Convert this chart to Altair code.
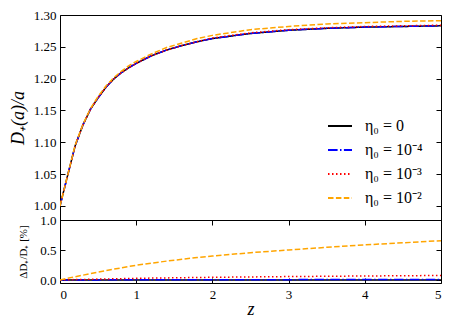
import altair as alt
import pandas as pd

z = [0, 0.1, 0.2, 0.3, 0.4, 0.5, 0.6, 0.7, 0.8, 0.9, 1.0, 1.2, 1.4, 1.6, 1.8,
     2.0, 2.5, 3.0, 3.5, 4.0, 4.5, 5.0]

d_eta0 = [1.000, 1.048, 1.095, 1.127, 1.152, 1.170, 1.186, 1.199, 1.209, 1.217,
          1.224, 1.236, 1.245, 1.252, 1.258, 1.263, 1.271, 1.276, 1.279, 1.281,
          1.282, 1.283]
d_eta4 = [1.000, 1.048, 1.095, 1.127, 1.152, 1.170, 1.186, 1.199, 1.209, 1.217,
          1.224, 1.236, 1.245, 1.252, 1.258, 1.263, 1.271, 1.276, 1.279, 1.281,
          1.282, 1.283]
d_eta3 = [1.000, 1.048, 1.095, 1.127, 1.152, 1.170, 1.186, 1.199, 1.209, 1.217,
          1.224, 1.236, 1.245, 1.252, 1.258, 1.264, 1.272, 1.277, 1.280, 1.282,
          1.283, 1.284]
d_eta2 = [1.000, 1.048, 1.096, 1.128, 1.153, 1.172, 1.188, 1.201, 1.211, 1.220,
          1.227, 1.239, 1.249, 1.256, 1.263, 1.268, 1.277, 1.282, 1.286, 1.288,
          1.290, 1.291]

pct_eta0 = [0.0, 0.0, 0.0, 0.0, 0.0, 0.0, 0.0, 0.0, 0.0, 0.0, 0.0, 0.0, 0.0,
            0.0, 0.0, 0.0, 0.0, 0.0, 0.0, 0.0, 0.0, 0.0]
pct_eta4 = [0.0, 0.001, 0.001, 0.002, 0.002, 0.002, 0.003, 0.003, 0.003, 0.003,
            0.004, 0.004, 0.004, 0.005, 0.005, 0.005, 0.006, 0.006, 0.007, 0.007,
            0.008, 0.008]
pct_eta3 = [0.0, 0.004, 0.007, 0.009, 0.012, 0.015, 0.017, 0.020, 0.022, 0.025,
            0.028, 0.032, 0.035, 0.038, 0.042, 0.045, 0.051, 0.057, 0.062, 0.067,
            0.071, 0.075]
pct_eta2 = [0.0, 0.03, 0.055, 0.08, 0.105, 0.13, 0.155, 0.18, 0.20, 0.225,
            0.245, 0.28, 0.315, 0.345, 0.375, 0.40, 0.455, 0.50, 0.545, 0.585,
            0.62, 0.655]

labels = ["η₀ = 0", "η₀ = 10⁻⁴", "η₀ = 10⁻³", "η₀ = 10⁻²"]
colors = ["#000000", "#0000ff", "#ff0000", "#ffa500"]
dashes = [[1, 0], [9.6, 2.4, 1.5, 2.4], [1.5, 2.5], [5.5, 2.4]]

rows = []
for i, (lab, dv, pv) in enumerate(zip(labels, [d_eta0, d_eta4, d_eta3, d_eta2],
                                       [pct_eta0, pct_eta4, pct_eta3, pct_eta2])):
    for zz, d, p in zip(z, dv, pv):
        rows.append({"z": zz, "D": d, "pct": p, "series": lab, "k": i})
df = pd.DataFrame(rows)

SERIF = "Liberation Serif"
xscale = alt.Scale(domain=[0, 5], nice=False)
ytop = alt.Scale(domain=[0.978, 1.30], nice=False, zero=False)
ybot = alt.Scale(domain=[-0.05, 1.0], nice=False, zero=False)
cscale = alt.Scale(domain=labels, range=colors)
dscale = alt.Scale(domain=labels, range=dashes)

leg = alt.Legend(title=None, orient="none", legendX=267, legendY=98,
                 symbolType="stroke", symbolSize=576, symbolStrokeWidth=2,
                 labelFont=SERIF, labelFontSize=16, labelColor="black",
                 labelOffset=12, rowPadding=3, padding=0)

base = alt.Chart(df)

top_line = base.mark_line(strokeWidth=1.5, clip=True).encode(
    x=alt.X("z:Q", scale=xscale, axis=None),
    y=alt.Y("D:Q", scale=ytop, axis=alt.Axis(
        orient="left", values=[1.0, 1.05, 1.1, 1.15, 1.2, 1.25, 1.3], format=".2f",
        offset=-5, tickSize=5, domain=False, grid=False, labelPadding=4,
        title="D₊(a)/a", titleFontStyle="italic", titleFontSize=18,
        titlePadding=6)),
    color=alt.Color("series:N", scale=cscale, legend=leg),
    strokeDash=alt.StrokeDash("series:N", scale=dscale, legend=leg),
    order=alt.Order("z:Q"),
)
top_right = base.mark_line(opacity=0).encode(
    x=alt.X("z:Q", scale=xscale, axis=None),
    y=alt.Y("D:Q", scale=ytop, axis=alt.Axis(
        orient="right", values=[1.0, 1.05, 1.1, 1.15, 1.2, 1.25, 1.3],
        offset=-5, tickSize=5, domain=False, grid=False, labels=False, title=None)),
)
top = alt.layer(top_line, top_right).resolve_axis(y="independent").properties(
    width=381, height=205)

bot_line = base.mark_line(strokeWidth=1.5, clip=True).encode(
    x=alt.X("z:Q", scale=xscale, axis=alt.Axis(
        orient="bottom", values=[0, 1, 2, 3, 4, 5], format="d", offset=-5,
        tickSize=5, domain=False, grid=False, labelPadding=5, title="z",
        titleFontStyle="italic", titleFontSize=18, titlePadding=-1)),
    y=alt.Y("pct:Q", scale=ybot, axis=alt.Axis(
        orient="left", values=[0.0, 0.5, 1.0], format=".1f", offset=-5,
        tickSize=5, domain=False, grid=False, labelPadding=4,
        title="ΔD₊/D₊ [%]", titleFontSize=11, titlePadding=11)),
    color=alt.Color("series:N", scale=cscale, legend=None),
    strokeDash=alt.StrokeDash("series:N", scale=dscale, legend=None),
    order=alt.Order("z:Q"),
)
bot_other = base.mark_line(opacity=0).encode(
    x=alt.X("z:Q", scale=xscale, axis=alt.Axis(
        orient="top", values=[0, 1, 2, 3, 4, 5], offset=-5, tickSize=5,
        domain=False, grid=False, labels=False, title=None)),
    y=alt.Y("pct:Q", scale=ybot, axis=alt.Axis(
        orient="right", values=[0.0, 0.5, 1.0], offset=-5, tickSize=5,
        domain=False, grid=False, labels=False, title=None)),
)
bot = alt.layer(bot_line, bot_other).resolve_axis(x="independent", y="independent").properties(
    width=381, height=63)

chart = alt.vconcat(top, bot, spacing=0, bounds="flush").resolve_legend(
    color="independent", strokeDash="independent"
).properties(
    padding={"left": 0, "top": 0, "right": 0, "bottom": 0},
    background="white"
).configure_view(
    stroke="black", strokeWidth=1
).configure_axis(
    labelFont=SERIF, labelFontSize=13, labelColor="black",
    titleFont=SERIF, titleColor="black", titleFontWeight="normal",
    tickColor="black", tickWidth=1
)

chart.save("out.html", embed_options={"renderer": "svg", "actions": False})
